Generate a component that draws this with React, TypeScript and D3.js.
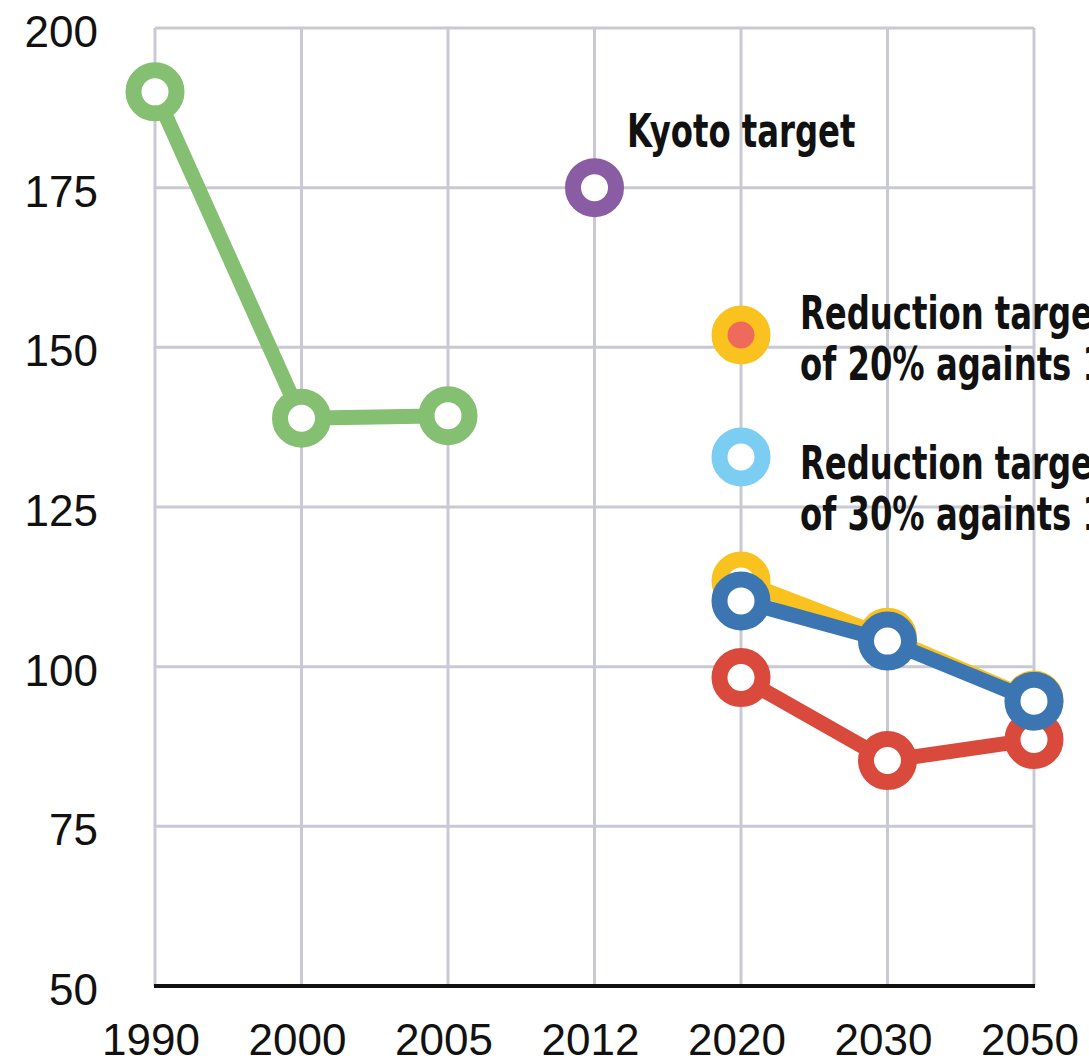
import * as d3 from "d3";
import React from "react";

const years = ["1990", "2000", "2005", "2012", "2020", "2030", "2050"];
const yTicks = [50, 75, 100, 125, 150, 175, 200];

const actualYears = ["1990", "2000", "2005"];
const actualValues = [190, 138.9, 139.3];

const kyotoYears = ["2012"];
const kyotoValues = [175];

const targetYears = ["2020", "2030", "2050"];
const target20Values = [113.4, 104.6, 94.8];
const target30Values = [110.3, 104.0, 94.6];
const projectionValues = [98.3, 85.3, 88.6];

const legendLabels = [
  ["Reduction target", "of 20% againts 1990"],
  ["Reduction target", "of 30% againts 1990"],
];

const W = 1089;
const H = 1062;

const x = d3.scalePoint<string>().domain(years).range([155, 1034]);
const y = d3.scaleLinear().domain([50, 200]).range([986, 28]);

const tickFont = "'Liberation Sans', Arial, Helvetica, sans-serif";
const labelFont = "'DejaVu Sans Condensed', 'DejaVu Sans', sans-serif";
// the original label face is a bold condensed one; squeeze DejaVu to match
const squeeze = 0.78;

const lineGen = d3
  .line<[string, number]>()
  .x((d) => x(d[0]) as number)
  .y((d) => y(d[1]));

const Series = ({ xs, vs, color }: { xs: string[]; vs: number[]; color: string }) => {
  const pts = xs.map((k, i) => [k, vs[i]] as [string, number]);
  return (
    <g>
      {pts.length > 1 && (
        <path d={lineGen(pts) || ""} fill="none" stroke={color} strokeWidth={15} strokeLinejoin="round" />
      )}
      {pts.map((p, i) => (
        <circle key={i} cx={x(p[0])} cy={y(p[1])} r={21.5} fill="#fff" stroke={color} strokeWidth={16} />
      ))}
    </g>
  );
};

const Label = ({ x0, y0, lines }: { x0: number; y0: number; lines: string[] }) => (
  <g transform={`translate(${x0},${y0}) scale(${squeeze},1)`}>
    <text fontFamily={labelFont} fontWeight="bold" fontSize={46} fill="#111">
      {lines.map((l, i) => (
        <tspan key={i} x={0} y={i * 51}>
          {l}
        </tspan>
      ))}
    </text>
  </g>
);

export default function App() {
  const x0 = x(years[0]) as number;
  const x1 = x(years[years.length - 1]) as number;
  const legendX = x("2020") as number;

  return (
    <svg width={W} height={H} style={{ position: "absolute", left: 0, top: 0, background: "#fff" }}>
      {/* grid */}
      <g stroke="#c9c9d3" strokeWidth={3}>
        {yTicks.slice(1).map((t) => (
          <line key={t} x1={x0} x2={x1} y1={y(t)} y2={y(t)} />
        ))}
        {years.map((yr) => (
          <line key={yr} x1={x(yr)} x2={x(yr)} y1={y(200)} y2={y(50)} />
        ))}
      </g>
      <line x1={x0 - 1} x2={x1 + 1} y1={y(50)} y2={y(50)} stroke="#111" strokeWidth={4} />

      {/* axis labels */}
      <g fontFamily={tickFont} fontSize={44} fill="#111">
        {yTicks.map((t) => (
          <text key={t} x={98} y={y(t) + 19} textAnchor="end">
            {t}
          </text>
        ))}
        {years.map((yr) => (
          <text key={yr} x={(x(yr) as number) - 4} y={1055} textAnchor="middle">
            {yr}
          </text>
        ))}
      </g>

      {/* series */}
      <Series xs={actualYears} vs={actualValues} color="#85bf71" />
      <Series xs={kyotoYears} vs={kyotoValues} color="#8a5ca4" />
      <Series xs={targetYears} vs={projectionValues} color="#d94a3d" />
      <Series xs={targetYears} vs={target20Values} color="#f9c21e" />
      <Series xs={targetYears} vs={target30Values} color="#3b76b3" />

      {/* labels */}
      <Label x0={627} y0={147} lines={["Kyoto target"]} />
      {legendLabels.map((lines, i) => (
        <Label key={i} x0={800} y0={329 + i * 150} lines={lines} />
      ))}

      {/* legend markers */}
      <circle cx={legendX} cy={335} r={21.5} fill="#ee6a5a" stroke="#f9c21e" strokeWidth={16} />
      <circle cx={legendX} cy={457} r={21.5} fill="#fff" stroke="#7ccdf2" strokeWidth={16} />
    </svg>
  );
}
